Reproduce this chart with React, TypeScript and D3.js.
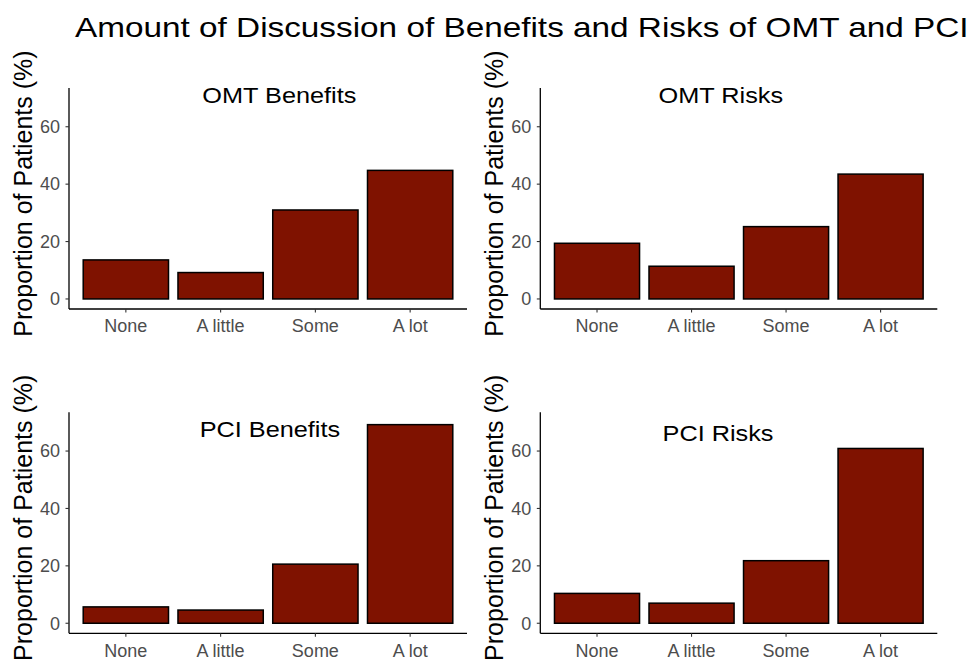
import React from "react";
import * as d3 from "d3";

const categories = ["None", "A little", "Some", "A lot"];
const panelTitles = ["OMT Benefits", "OMT Risks", "PCI Benefits", "PCI Risks"];
const omtBenefits = [13.6, 9.2, 31.0, 44.8];
const omtRisks = [19.4, 11.4, 25.2, 43.5];
const pciBenefits = [5.7, 4.6, 20.6, 69.2];
const pciRisks = [10.4, 7.0, 21.8, 60.9];
const yTicks = [0, 20, 40, 60];

const title = "Amount of Discussion of Benefits and Risks of OMT and PCI";
const yLabel = "Proportion of Patients (%)";

const series = [omtBenefits, omtRisks, pciBenefits, pciRisks];

// panel layout (pixels) and title placement (category index, y value)
const panels = [
  { x0: 69, x1: 467, yTop: 88, yBot: 309, tx: 1.62, ty: 68.3 },
  { x0: 540.3, x1: 937.3, yTop: 88, yBot: 309, tx: 1.31, ty: 68.3 },
  { x0: 69, x1: 467, yTop: 412.3, yBot: 633.3, tx: 1.52, ty: 64.9 },
  { x0: 540.3, x1: 937.3, yTop: 412.3, yBot: 633.3, tx: 1.28, ty: 63.5 },
];

const FONT = "'Liberation Sans', Arial, Helvetica, sans-serif";
const BAR_FILL = "#7f1200";

function Panel({ idx }: { idx: number }) {
  const p = panels[idx];
  const values = series[idx];
  const x = d3
    .scaleBand<string>()
    .domain(categories)
    .range([p.x0, p.x1])
    .paddingInner(0.1)
    .paddingOuter(0.15);
  const y = d3.scaleLinear().domain([-3.5, 73.5]).range([p.yBot, p.yTop]);
  const center = (c: string) => (x(c) as number) + x.bandwidth() / 2;
  const idxScale = d3
    .scaleLinear()
    .domain([0, categories.length - 1])
    .range([center(categories[0]), center(categories[categories.length - 1])]);

  const tx = idxScale(p.tx);
  const ty = y(p.ty);

  return (
    <g>
      {values.map((v, i) => (
        <rect
          key={i}
          x={x(categories[i])}
          y={y(v)}
          width={x.bandwidth()}
          height={y(0) - y(v)}
          fill={BAR_FILL}
          stroke="#000"
          strokeWidth={1.5}
        />
      ))}
      {/* y axis */}
      <line x1={p.x0} x2={p.x0} y1={p.yTop} y2={p.yBot} stroke="#000" strokeWidth={1.3} />
      {yTicks.map((t) => (
        <g key={t}>
          <line x1={p.x0 - 3.5} x2={p.x0} y1={y(t)} y2={y(t)} stroke="#333" strokeWidth={1.1} />
          <text
            x={p.x0 - 9}
            y={y(t)}
            dy="0.35em"
            textAnchor="end"
            fontSize={18}
            fill="#4d4d4d"
            fontFamily={FONT}
          >
            {t}
          </text>
        </g>
      ))}
      {/* x axis */}
      <line x1={p.x0} x2={p.x1} y1={p.yBot} y2={p.yBot} stroke="#000" strokeWidth={1.3} />
      {categories.map((c) => (
        <g key={c}>
          <line x1={center(c)} x2={center(c)} y1={p.yBot} y2={p.yBot + 3.5} stroke="#333" strokeWidth={1.1} />
          <text
            x={center(c)}
            y={p.yBot + 23.3}
            textAnchor="middle"
            fontSize={18}
            fill="#4d4d4d"
            fontFamily={FONT}
          >
            {c}
          </text>
        </g>
      ))}
      {/* y label */}
      <text
        transform={`translate(${p.x0 - 37},${(p.yTop + p.yBot) / 2 - 5}) rotate(-90)`}
        textAnchor="middle"
        fontSize={25}
        fill="#000"
        fontFamily={FONT}
      >
        {yLabel}
      </text>
      {/* panel title */}
      <text
        transform={`translate(${tx},${ty}) scale(1.15,1)`}
        textAnchor="middle"
        fontSize={22}
        fill="#000"
        fontFamily={FONT}
      >
        {panelTitles[idx]}
      </text>
    </g>
  );
}

export default function App() {
  return (
    <svg
      width={975}
      height={664}
      style={{ position: "absolute", left: 0, top: 0, background: "#fff" }}
    >
      <rect width={975} height={664} fill="#fff" />
      <text
        transform="translate(75,37.3) scale(1.19,1)"
        fontSize={28}
        fill="#000"
        fontFamily={FONT}
      >
        {title}
      </text>
      {panels.map((_, i) => (
        <Panel key={i} idx={i} />
      ))}
    </svg>
  );
}
